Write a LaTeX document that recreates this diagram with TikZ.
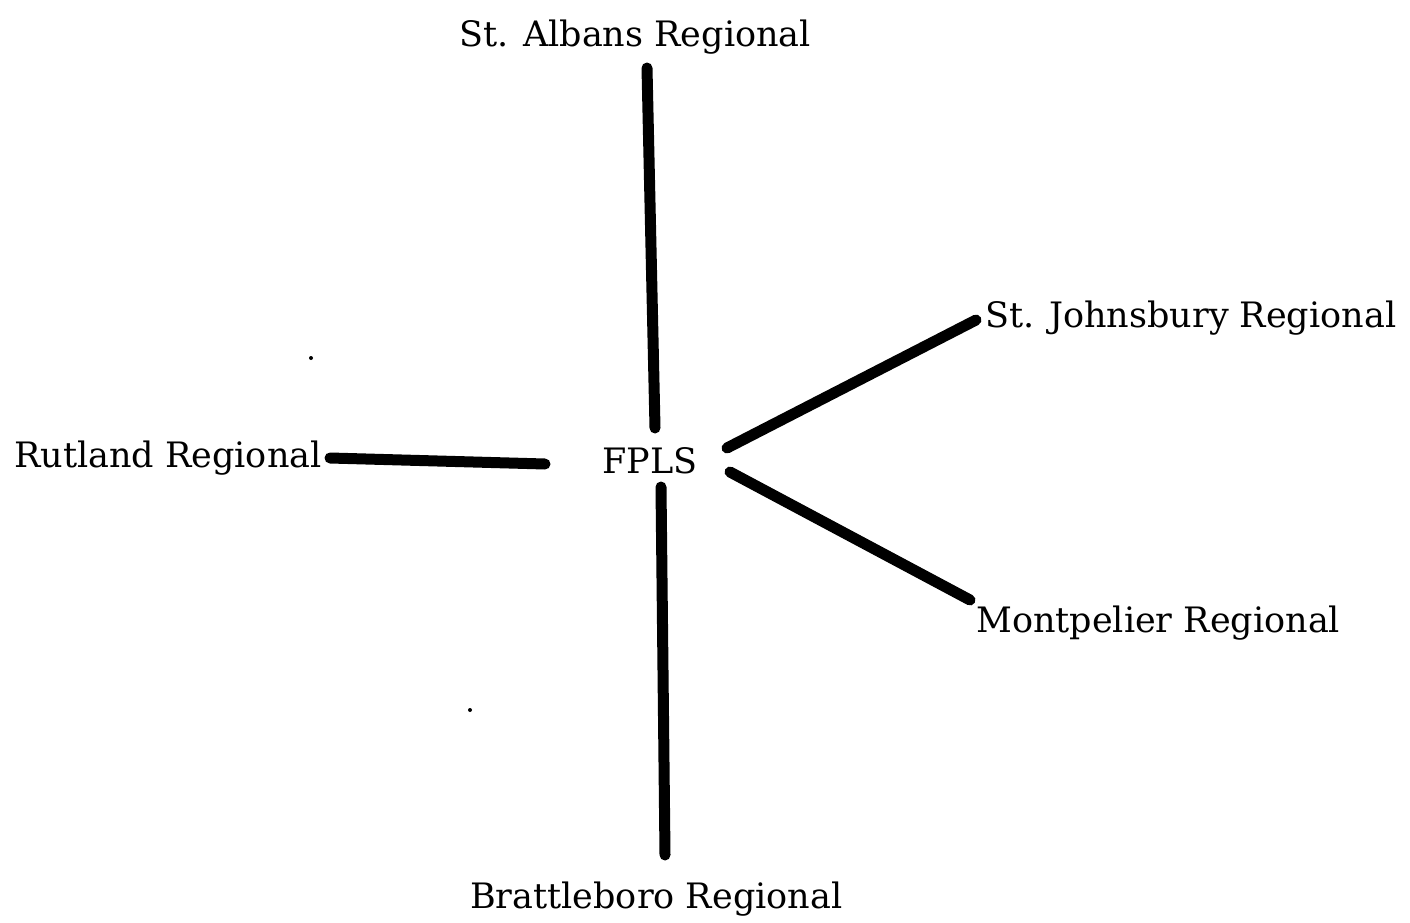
\documentclass[tikz,border=0pt]{standalone}
\usepackage{fontspec}
\setmainfont{DejaVu Serif}
\begin{document}
\begin{tikzpicture}[x=1pt,y=-1pt,
  label/.style={anchor=base west,inner sep=0pt,font=\fontsize{35}{41}\selectfont},
  link/.style={line width=11pt,line cap=round}]
\useasboundingbox[fill=white] (0,0) rectangle (1410,923);
% place names
\node[label] (fpls) at (602,473) {FPLS};
\node[label] (albans) at (459,47) {St. Albans Regional};
\node[label] (rutland) at (14,467) {Rutland Regional};
\node[label] (johns) at (985,327) {St. Johnsbury Regional};
\node[label] (montp) at (976,632) {Montpelier Regional};
\node[label] (bratt) at (470,908) {Brattleboro Regional};
% line ends
\coordinate (fa) at (655,428); \coordinate (aa) at (647,68);
\coordinate (fb) at (661,487); \coordinate (bb) at (665,855);
\coordinate (fr) at (545,464); \coordinate (rr) at (330,458);
\coordinate (fj) at (727,448); \coordinate (jj) at (976,320);
\coordinate (fm) at (730,472); \coordinate (mm) at (970,600);
\draw[link] (fa) -- (aa);
\draw[link] (fb) -- (bb);
\draw[link] (fr) -- (rr);
\draw[link] (fj) -- (jj);
\draw[link] (fm) -- (mm);
% stray specks
\fill (311,358) circle (2);
\fill (470,710) circle (2);
\end{tikzpicture}
\end{document}
